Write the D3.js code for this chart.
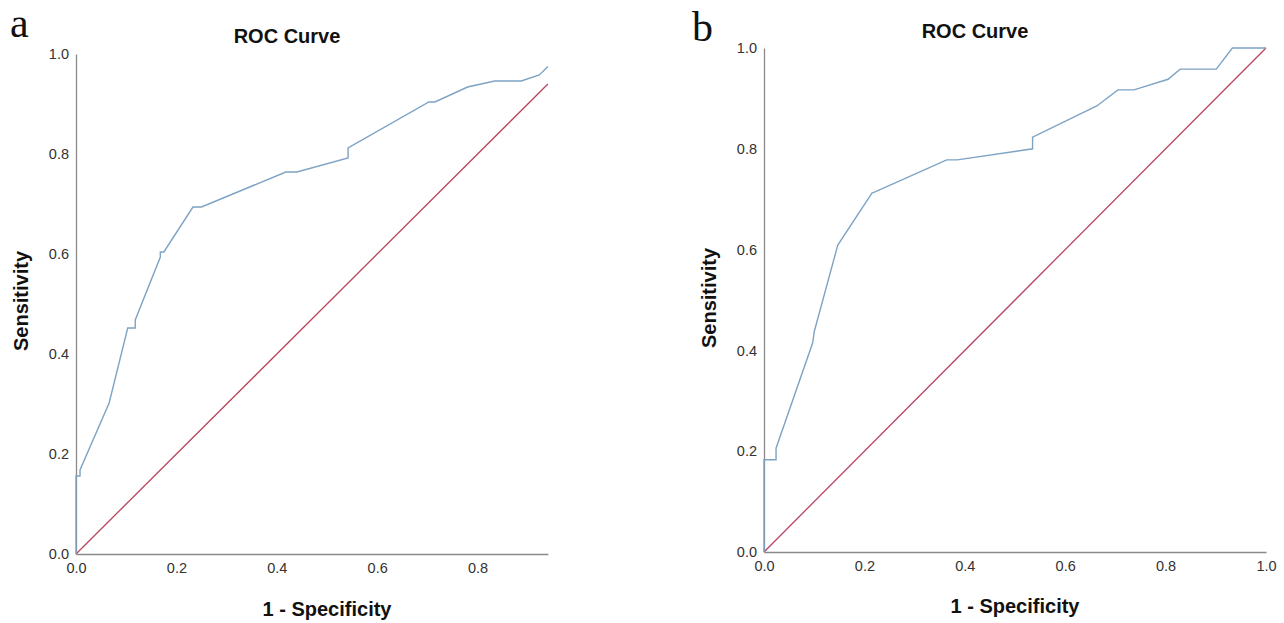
<!DOCTYPE html>
<html>
<head>
<meta charset="utf-8">
<script src="https://cdn.jsdelivr.net/npm/d3@7"></script>
<style>
  html, body { margin: 0; padding: 0; background: #fff; }
  svg { display: block; }
</style>
</head>
<body>
<script>
// ---------- data ----------
const xTicksA = [0, 0.2, 0.4, 0.6, 0.8];
const xTicksB = [0, 0.2, 0.4, 0.6, 0.8, 1.0];
const yTicks  = [0, 0.2, 0.4, 0.6, 0.8, 1.0];

// panel a ROC (1 - specificity, sensitivity)
const aFpr = [0, 0, 0.008, 0.008, 0.066, 0.103, 0.118, 0.118, 0.168, 0.168, 0.175, 0.233, 0.25, 0.418, 0.44, 0.542, 0.542, 0.703, 0.715, 0.78, 0.834, 0.887, 0.923, 0.94];
const aTpr = [0, 0.156, 0.156, 0.168, 0.302, 0.452, 0.452, 0.468, 0.594, 0.604, 0.604, 0.694, 0.694, 0.764, 0.764, 0.792, 0.812, 0.904, 0.904, 0.934, 0.946, 0.946, 0.958, 0.975];
// panel b ROC
const bFpr = [0, 0, 0.024, 0.024, 0.097, 0.1, 0.147, 0.215, 0.22, 0.364, 0.385, 0.535, 0.535, 0.663, 0.705, 0.737, 0.805, 0.829, 0.901, 0.933, 1.0];
const bTpr = [0, 0.183, 0.183, 0.206, 0.415, 0.437, 0.609, 0.712, 0.714, 0.778, 0.778, 0.8, 0.823, 0.885, 0.917, 0.917, 0.938, 0.958, 0.958, 1.0, 1.0];

// reference diagonals
const aDiag = [0, 0.94];
const bDiag = [0, 1.0];

const panelLabels = ["a", "b"];
const titleText = "ROC Curve";
const xTitle = "1 - Specificity";
const yTitle = "Sensitivity";

// ---------- drawing ----------
const W = 1284, H = 623;
const svg = d3.select("body").append("svg").attr("width", W).attr("height", H);

const curveColor = "#7ea3c4";
const diagColor = "#b8455f";
const axisColor = "#8a8a8a";

const panels = [
  { label: panelLabels[0], fpr: aFpr, tpr: aTpr, diag: aDiag, xTicks: xTicksA,
    x: d3.scaleLinear([0, 0.94], [76, 76 + 0.94 * 502]),
    y: d3.scaleLinear([0, 1], [554, 54]),
    labelPos: [10, 37], titleX: 287, titleY: 43, xTitleX: 327, xTitleY: 616, yTitleX: 21, yTitleY: 301 },
  { label: panelLabels[1], fpr: bFpr, tpr: bTpr, diag: bDiag, xTicks: xTicksB,
    x: d3.scaleLinear([0, 1], [764, 1266]),
    y: d3.scaleLinear([0, 1], [552, 48]),
    labelPos: [692, 41], titleX: 975, titleY: 38, xTitleX: 1015, xTitleY: 613, yTitleX: 709, yTitleY: 298 }
];

panels.forEach(p => {
  const g = svg.append("g");

  // panel letter
  g.append("text")
    .attr("x", p.labelPos[0]).attr("y", p.labelPos[1])
    .attr("font-family", "'Liberation Serif', 'DejaVu Serif', serif")
    .attr("font-size", 42).attr("fill", "#111")
    .text(p.label);

  // title
  g.append("text")
    .attr("x", p.titleX).attr("y", p.titleY)
    .attr("text-anchor", "middle")
    .attr("font-family", "'Liberation Sans', Arial, sans-serif")
    .attr("font-weight", "bold").attr("font-size", 20).attr("fill", "#111")
    .text(titleText);

  // axes
  const ax = g.append("g").attr("transform", `translate(0,${p.y(0)})`)
    .call(d3.axisBottom(p.x).tickValues(p.xTicks).tickFormat(d3.format(".1f"))
      .tickSize(0).tickPadding(9));
  const ay = g.append("g").attr("transform", `translate(${p.x(0)},0)`)
    .call(d3.axisLeft(p.y).tickValues(yTicks).tickFormat(d3.format(".1f"))
      .tickSize(0).tickPadding(7));
  [ax, ay].forEach(a => {
    a.select(".domain").attr("stroke", axisColor).attr("stroke-width", 1.3);
    a.selectAll("text").attr("font-family", "'Liberation Sans', Arial, sans-serif")
      .attr("font-size", 14.5).attr("fill", "#333");
  });

  // diagonal reference line
  g.append("line")
    .attr("x1", p.x(p.diag[0])).attr("y1", p.y(p.diag[0]))
    .attr("x2", p.x(p.diag[1])).attr("y2", p.y(p.diag[1]))
    .attr("stroke", diagColor).attr("stroke-width", 1.3);

  // ROC curve
  const pts = p.fpr.map((f, i) => [f, p.tpr[i]]);
  g.append("path")
    .datum(pts)
    .attr("d", d3.line().x(d => p.x(d[0])).y(d => p.y(d[1])))
    .attr("fill", "none").attr("stroke", curveColor).attr("stroke-width", 1.4);

  // axis titles
  g.append("text")
    .attr("x", p.xTitleX).attr("y", p.xTitleY)
    .attr("text-anchor", "middle")
    .attr("font-family", "'Liberation Sans', Arial, sans-serif")
    .attr("font-weight", "bold").attr("font-size", 20).attr("fill", "#111")
    .text(xTitle);
  g.append("text")
    .attr("transform", `translate(${p.yTitleX + 7},${p.yTitleY}) rotate(-90)`)
    .attr("text-anchor", "middle")
    .attr("font-family", "'Liberation Sans', Arial, sans-serif")
    .attr("font-weight", "bold").attr("font-size", 20).attr("fill", "#111")
    .text(yTitle);
});
</script>
</body>
</html>
